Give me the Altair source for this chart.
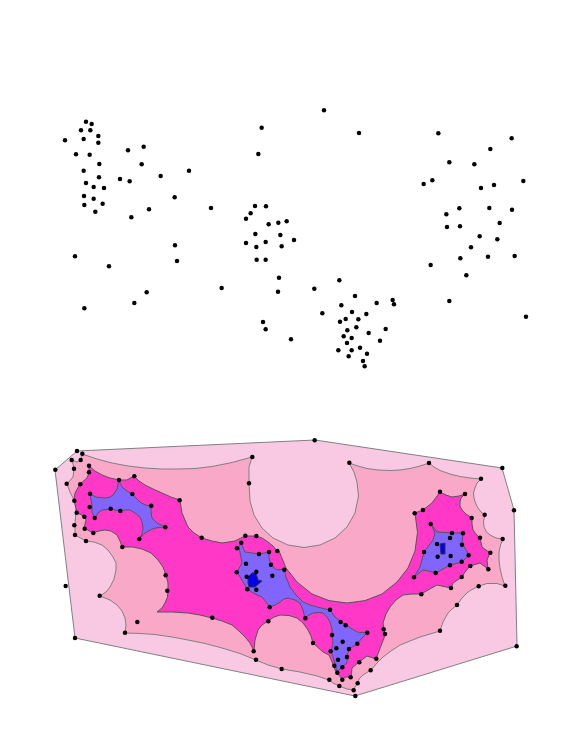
import altair as alt
import pandas as pd

# ---- scatter readings, upper cloud: (x, y)
TOP_LEFT = [(138,95),(155,102),(123,121),(151,121),(175,138),(75,151),(131,147),(175,158),(108,193),(149,194),
 (264,181),(311,170),(178,222),(305,223),(131,242),(362,258),(447,242),(177,262),(240,267),(269,274),(138,279),
 (161,291),(192,294),(132,318),(161,326),(404,322),(188,341),(133,345),(327,358),(166,365),(513,354),(274,382),
 (405,466),(105,499),(411,513),(207,529),(545,594),(320,607),(283,639),(133,655),(665,113),(655,192),(645,348),
 (678,349),(632,370),(618,386),(686,403),(715,398),(740,394),(646,432),(721,435),(762,450),(618,459),(677,456),
 (649,471),(725,469),(650,509),(677,509),(717,563),(714,605),(669,696),(677,718)]
TOP_RIGHT = [(102,61),(207,129),(445,130),(665,145),(601,177),(478,217),(553,223),(401,282),(427,271),(700,273),
 (573,294),(612,285),(508,355),(598,354),(666,359),(469,373),(471,411),(510,409),(629,399),(569,439),(622,448),
 (543,472),(511,505),(594,500),(674,498),(422,525),(529,556),(148,571),(73,596),(195,618),(478,633),(308,630),
 (312,643),(260,639),(154,646),(97,670),(186,666),(229,672),(708,680),(167,687),(205,688),(150,695),(199,712),
 (172,721),(287,717),(236,729),(161,739),(185,744),(3,748),(171,759),(270,752),(210,773),(145,781),(185,781),
 (231,791),(176,799),(219,813),(224,829)]
# ---- scatter readings, lower cloud
BOT_LEFT = [(96,63),(112,71),(80,90),(107,90),(132,107),(31,119),(87,116),(132,127),(622,81),(222,150),(268,139),
 (65,161),(106,163),(612,160),(135,191),(262,192),(88,212),(404,211),(134,231),(197,236),(226,243),(319,227),
 (95,248),(118,260),(149,264),(88,286),(119,296),(145,309),(361,292),(90,315),(283,327),(123,333),(470,323),
 (232,351),(601,317),(634,318),(589,338),(576,355),(697,363),(672,366),(642,372),(362,436),(678,404),(603,401),
 (575,427),(718,419),(634,425),(605,440),(682,437),(62,468),(367,482),(607,478),(634,479),(164,497),(674,532),
 (502,563),(277,576),(670,574),(240,608),(90,624),(626,664),(633,689)]
BOT_RIGHT = [(104,31),(208,98),(447,99),(667,114),(603,146),(480,185),(555,192),(404,250),(429,240),(702,241),
 (575,264),(614,254),(452,282),(516,309),(549,310),(510,324),(600,323),(668,327),(471,342),(546,344),(432,366),
 (631,368),(566,376),(473,380),(512,378),(545,395),(510,406),(571,408),(625,418),(467,429),(402,442),(545,441),
 (513,474),(676,467),(424,493),(596,469),(531,525),(150,539),(76,565),(182,576),(197,586),(480,602),(311,598),
 (315,612),(262,608),(156,615),(99,639),(188,635),(232,641),(710,649),(169,655),(207,657),(152,664),(201,681),
 (174,689),(289,686),(238,697),(163,707),(187,712),(272,721),(5,717),(172,728),(212,742),(148,749),(187,749),
 (233,760),(178,768),(221,781),(226,798)]

# ---- nested region outlines
LEVEL1 = [(55,470),(77,451),(315,440),(502,468),(514,510),(517,646),(355,696),(75,638)]
LEVEL2 = [(82,454),(97,459),(112,463),(128,466),(145,468),(162,469),(178,469),(195,468.5),(212,466.5),(232,462.5),
 (252,457),(249,467),(249,483),(250,501),(254,515),(262,528),(273,538),(288,545),(304,547.5),(320,545),(335,538),
 (347,527),(355,513),(358.5,496),(357,482),(354,472),(349,463),(358,466),(367,468.5),(378,470),(390,470.5),(400,470),
 (410,468.5),(420,466),(429,463),(434,467),(440,470.5),(450,474),(460,476.5),(470,478),(481,479),(477,483),(475,488),
 (473.5,493),(474,498),(475.5,503),(478,508),(481,512),(485,515),(483.5,521),(484,527),(486.5,532),(490,535),(496,538),
 (503,539),(500.5,545),(499,552),(499,560),(500,568),(502,577),(505,586),(497,583.5),(487,583.5),(479,586),(473,589),
 (468,592),(462,598),(457,605),(452,609),(448,613),(443,622),(440,631),(430,634),(420,637),(410,641),(400,645),(391,651),
 (383,657),(377,663),(371,670),(363,675),(359,679),(358,683),(355,687),(354,690),(347,689),(339,686),(333,683),(329,680),
 (317,676),(300,672),(282,669),(268,665),(256,660),(240,653.5),(222,648),(205,643.5),(188,640),(172,637),(155,634.5),
 (140,633.5),(125,633),(126,625),(125,618),(122,611),(117,605),(110,600),(100,596),(106,592),(110,587),(114,579),(116,570),
 (116,563),(113,557),(108,550),(102,545),(94,542),(86,541),(75,535),(75,525),(76,508),(74,500),(70,492),(67,484),(73,477),
 (74,468),(72,460),(77,462),(81,460)]
LEVEL3 = [(89,466),(95,471),(102,475),(110,478),(119,480),(127,480),(134,476),(139,481),(145,485),(153,489),(162,493),
 (171,497),(180,500),(181,507),(182,513),(185,520),(188,527),(194,533),(202,538),(212,541),(222,543),(235,541),(245,536),
 (256,536),(262,538),(268,542),(273,546),(277,551),(279,551),(286,568),(297,582),(312,594),(329,600.6),(347,603),(365,600.6),
 (382,594),(397,582),(408,568),(415,551),(417.5,532.5),(415,513),(423,510),(432,503),(440,492),(446,495),(452,497),(459,496),
 (465,494),(461,498),(460,502),(460,506),(462,510),(466,514),(472,518),(472,524),(473,530),(476,534),(480,538),(482,547),
 (490,553),(487,560),(488,569),(480,563),(470,566),(465,572),(462,577),(453,583),(451,588),(437,585),(421,594),(412,594),
 (403,595),(396,600),(390,607),(386,614),(383,623),(384,629),(385,634),(384,638),(382,643),(379,651),(376,659),(367,656),
 (359,662),(352,668),(351,677),(346,677),(342,679),(338,674),(335,670),(333,664),(329,655),(323,652),(313,643),(311,636),
 (308,630),(303,623),(297,618),(289,615.5),(280,615),(274,617),(268,621),(262,625),(258,630),(255,640),(254,651),(250,643),
 (245,637),(239,631),(232,625),(222,621),(212,618),(200,615),(188,613),(172,612),(157,612),(162,608),(165,603),(167.5,597),
 (168,590),(168,583),(166,575),(163,567),(158,560),(151,553),(142,549),(133,547),(122,547),(120,541),(117,535),(111,531),
 (105,530),(99,531),(93,533),(84,528),(86,520),(84,516),(77,513),(74,500),(75,493),(80,484),(87,478),(89,473)]
LEVEL4_A = [(90,494),(96,497),(103,498),(109,497.5),(113,495),(117,489),(119,481),(121,485),(123,488),(127,491),(132,494),
 (136,498),(140,502),(145,505),(151,506),(151,512),(152,518),(157,523),(165,527),(158,527.5),(152,529),(145,533),(139,539),
 (142,534),(143,528),(142,522),(140,517),(135,513),(130,510),(125,510),(120,511),(111,509),(102,510),(98,513),(95,518),
 (92,512),(92,505)]
LEVEL4_B = [(241,543),(245,552),(259,554),(269,552),(269,558),(271,565),(277,570),(284,569),(286,577),(290,587),(296,595),
 (303,602),(310,605),(317,607),(330,610),(335,617),(341,622),(346,625),(357,632),(367,633),(362,638),(357,644),(349,649),
 (348,653),(347,657),(347,663),(342,667),(337,672),(334,660),(331,651),(333,643),(332,635),(332,629),(330,622),(327,617),
 (323,613),(318,612.5),(313,613),(309,615),(305,618),(303,610),(300,603),(295,600),(288,598),(284,599),(280,602),(275,605),
 (270,607),(262,597),(255,594),(247,589),(242,580),(237,572),(242,563),(239,547)]
LEVEL4_C = [(431,524),(437,532),(452,533),(463,533),(462,543),(469,555),(462,562),(450,565),(436,573),(429,571),(423,570),
 (414,577),(420,567),(424,552),(433,540),(435,533)]
LEVEL5_A = [(248,577),(252,573),(256,573),(258,580),(262,581),(255,587),(249,587),(248,583)]
LEVEL5_B = [(440,544),(445,543),(445,554),(441,554)]

REGIONS = [(LEVEL1, "#F9C9E4", "#808080"), (LEVEL2, "#FAA8C8", "#808080"), (LEVEL3, "#FF38C8", "#555555"),
           (LEVEL4_A, "#8066FF", "#555555"), (LEVEL4_B, "#8066FF", "#555555"), (LEVEL4_C, "#8066FF", "#555555"),
           (LEVEL5_A, "#0000F0", "#333333"), (LEVEL5_B, "#0000F0", "#333333")]

x_scale = alt.Scale(domain=[8, 573], nice=False, zero=False)
y_scale = alt.Scale(domain=[720, 8], nice=False, zero=False)
X = alt.X("x:Q", scale=x_scale, axis=None)
Y = alt.Y("y:Q", scale=y_scale, axis=None)

layers = []
for pts, colour, edge in REGIONS:
    closed = pts + pts[:1]
    df = pd.DataFrame({"x": [p[0] for p in closed], "y": [p[1] for p in closed], "i": range(len(closed))})
    layers.append(
        alt.Chart(df).mark_line(fill=colour, stroke=edge, strokeWidth=1, opacity=1)
        .encode(x=X, y=Y, order="i:Q")
    )

rows = ([(40 + a / 3, 90 + b / 3) for a, b in TOP_LEFT] +
        [(290 + a / 3, 90 + b / 3) for a, b in TOP_RIGHT] +
        [(45 + a / 3, 430 + b / 3) for a, b in BOT_LEFT] +
        [(280 + a / 3, 430 + b / 3) for a, b in BOT_RIGHT])
points = pd.DataFrame(rows, columns=["x", "y"])
layers.append(
    alt.Chart(points).mark_circle(color="black", opacity=1, size=20).encode(x=X, y=Y)
)

chart = alt.layer(*layers).properties(width=565, height=712, padding=0).configure_view(stroke=None)
chart.save("out.html", embed_options={"renderer": "svg", "actions": False})
